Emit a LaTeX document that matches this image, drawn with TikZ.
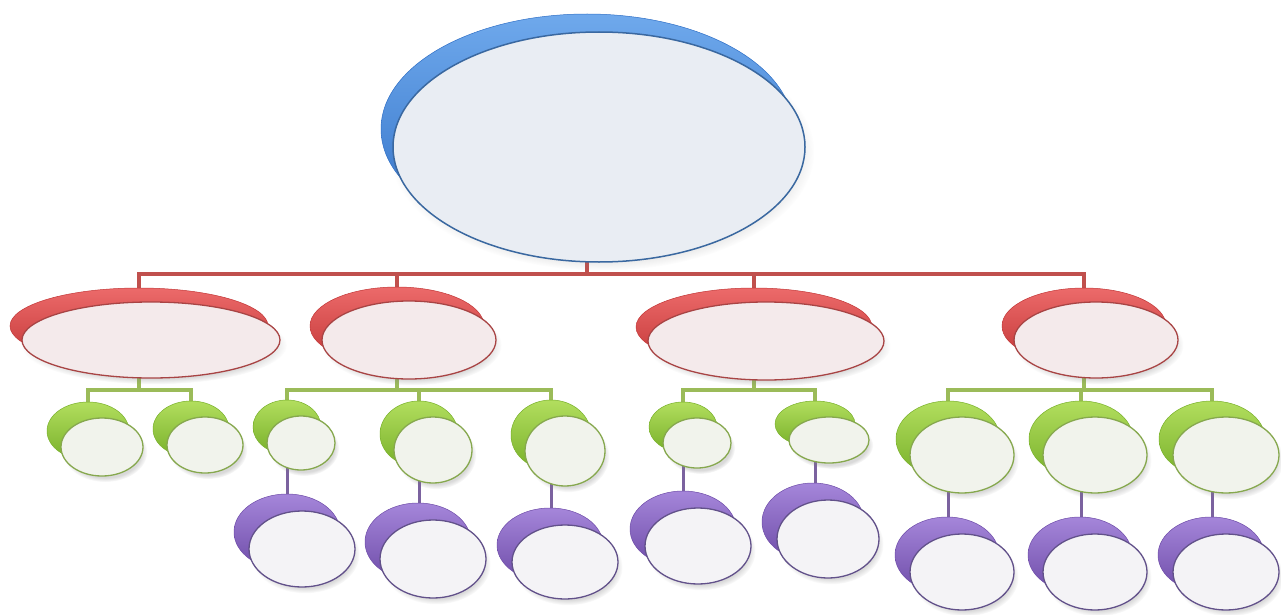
\documentclass[tikz,border=0pt]{standalone}
\usetikzlibrary{shapes.geometric,shadows,backgrounds}
\definecolor{blueA}{HTML}{6FA9EC}
\definecolor{blueB}{HTML}{2F6FC6}
\definecolor{blueE}{HTML}{3A68A0}
\definecolor{blueF}{HTML}{E9EDF3}
\definecolor{redA}{HTML}{EC6A6A}
\definecolor{redB}{HTML}{C23636}
\definecolor{redE}{HTML}{A84444}
\definecolor{redF}{HTML}{F4EAEB}
\definecolor{redL}{HTML}{C0504D}
\definecolor{grnA}{HTML}{B2DE5E}
\definecolor{grnB}{HTML}{78B02A}
\definecolor{grnE}{HTML}{86A84E}
\definecolor{grnF}{HTML}{F1F3EC}
\definecolor{grnL}{HTML}{9BBB59}
\definecolor{purA}{HTML}{A586DA}
\definecolor{purB}{HTML}{6E4CA8}
\definecolor{purE}{HTML}{62518A}
\definecolor{purF}{HTML}{F4F3F6}
\definecolor{purL}{HTML}{7B629F}
\tikzset{
  ell/.style={ellipse, inner sep=0pt, outer sep=0pt},
  shad/.style={circular drop shadow={shadow xshift=3pt, shadow yshift=-5pt, shadow scale=1.03, opacity=0.3}},
  backblue/.style={ell, top color=blueA, bottom color=blueB, draw=blueB, line width=0.5pt},
  frontblue/.style={ell, fill=blueF, draw=blueE, line width=1.5pt, shad},
  backred/.style={ell, top color=redA, bottom color=redB, draw=redB, line width=0.5pt},
  frontred/.style={ell, fill=redF, draw=redE, line width=1.3pt, shad},
  backgrn/.style={ell, top color=grnA, bottom color=grnB, draw=grnB, line width=0.5pt},
  frontgrn/.style={ell, fill=grnF, draw=grnE, line width=1.3pt, shad},
  backpur/.style={ell, top color=purA, bottom color=purB, draw=purB, line width=0.5pt},
  frontpur/.style={ell, fill=purF, draw=purE, line width=1.3pt, shad},
  redline/.style={draw=redL, line width=3.6pt},
  grnline/.style={draw=grnL, line width=3.4pt},
  purline/.style={draw=purL, line width=3pt}
}
% #1 name, #2 cx, #3 cy, #4 rx, #5 ry, #6 dx, #7 dy, #8 colour key
\newcommand\mybub[8]{%
  \node[back#8, minimum width={2*#4pt}, minimum height={2*#5pt}] (b#1) at (#2-#6,#3-#7) {};
  \node[front#8, minimum width={2*#4pt}, minimum height={2*#5pt}] (#1) at (#2,#3) {};
}
\begin{document}
\begin{tikzpicture}[x=1pt,y=-1pt]
\useasboundingbox (0,0) rectangle (1281,615);
\mybub{top}{599}{147}{206}{115}{12}{18}{blue}
\mybub{r1}{151}{340}{129}{38}{12}{14}{red}
\mybub{r2}{409}{340}{87}{39}{12}{14}{red}
\mybub{r3}{766}{341}{118}{39}{12}{14}{red}
\mybub{r4}{1096}{340}{82}{38}{12}{14}{red}
\mybub{g1}{102}{447}{41}{29}{14}{16}{grn}
\mybub{g2}{205}{445}{38}{28}{14}{16}{grn}
\mybub{g3}{301}{443}{34}{27}{14}{16}{grn}
\mybub{g4}{433}{450}{39}{33}{14}{16}{grn}
\mybub{g5}{565}{451}{40}{35}{14}{16}{grn}
\mybub{g6}{697}{443}{34}{25}{14}{16}{grn}
\mybub{g7}{829}{440}{40}{23}{14}{16}{grn}
\mybub{g8}{962}{455}{52}{38}{14}{16}{grn}
\mybub{g9}{1095}{455}{52}{38}{14}{16}{grn}
\mybub{g10}{1226}{455}{53}{38}{14}{16}{grn}
\mybub{p1}{302}{549}{53}{38}{15}{17}{pur}
\mybub{p2}{433}{559}{53}{39}{15}{17}{pur}
\mybub{p3}{565}{562}{53}{37}{15}{17}{pur}
\mybub{p4}{698}{546}{53}{38}{15}{17}{pur}
\mybub{p5}{828}{539}{51}{39}{15}{17}{pur}
\mybub{p6}{962}{572}{52}{38}{15}{17}{pur}
\mybub{p7}{1095}{572}{52}{38}{15}{17}{pur}
\mybub{p8}{1226}{572}{53}{38}{15}{17}{pur}
\begin{pgfonlayer}{background}
  \coordinate (busR) at (0,274);
  \coordinate (busG) at (0,390);
  \foreach \c in {r1,r2,r3,r4}
    \draw[redline] (btop.center) |- (b\c.center |- busR) -- (b\c.center);
  \foreach \p/\c in {r1/g1,r1/g2,r2/g3,r2/g4,r2/g5,r3/g6,r3/g7,r4/g8,r4/g9,r4/g10}
    \draw[grnline] (b\p.center) |- (b\c.center |- busG) -- (b\c.center);
  \foreach \g/\c in {g3/p1,g4/p2,g5/p3,g6/p4,g7/p5,g8/p6,g9/p7,g10/p8}
    \draw[purline] (b\g.center) -- (b\g.center |- b\c.center);
\end{pgfonlayer}
\end{tikzpicture}
\end{document}
